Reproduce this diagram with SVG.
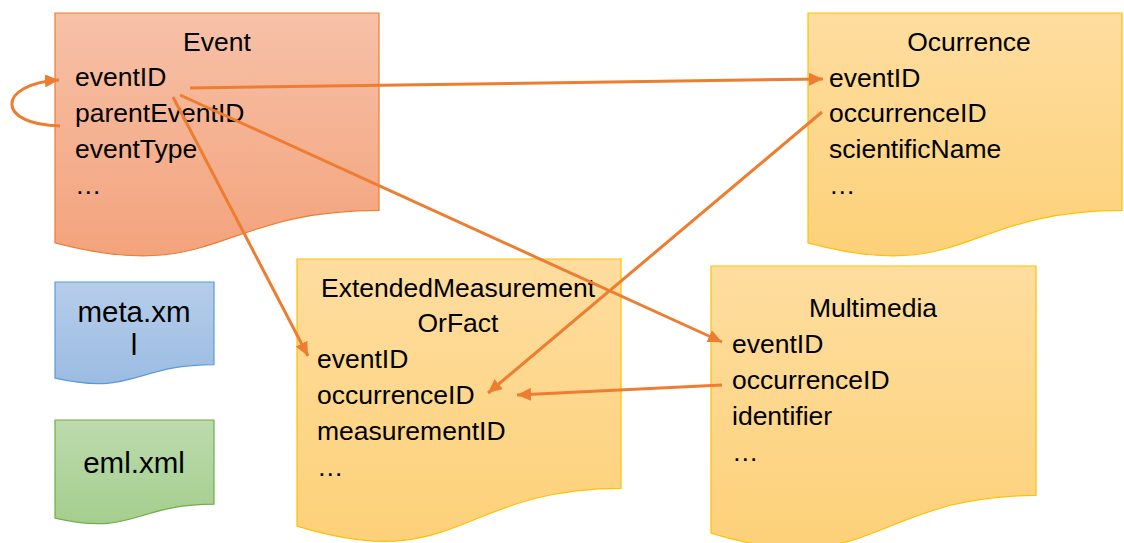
<svg xmlns="http://www.w3.org/2000/svg" width="1124" height="543" viewBox="0 0 1124 543">
<defs>
<linearGradient id="gOrange" x1="0" y1="0" x2="0" y2="1"><stop offset="0" stop-color="#f7c1a8"/><stop offset="1" stop-color="#f3a37c"/></linearGradient>
<linearGradient id="gYellow" x1="0" y1="0" x2="0" y2="1"><stop offset="0" stop-color="#fedd9f"/><stop offset="1" stop-color="#fdd179"/></linearGradient>
<linearGradient id="gBlue" x1="0" y1="0" x2="0" y2="1"><stop offset="0" stop-color="#b6cdea"/><stop offset="1" stop-color="#9bbce2"/></linearGradient>
<linearGradient id="gGreen" x1="0" y1="0" x2="0" y2="1"><stop offset="0" stop-color="#bddbad"/><stop offset="1" stop-color="#a4ce8e"/></linearGradient>
<marker id="arr" markerUnits="userSpaceOnUse" markerWidth="15" markerHeight="13" refX="14" refY="6.5" orient="auto">
<path d="M0,0 L14,6.5 L0,13 Z" fill="#ed7d31"/>
</marker>
</defs>
<style>
text{font-family:"Liberation Sans",Arial,sans-serif;font-size:26.5px;fill:#000}
.c{text-anchor:middle}
.big{font-size:29.5px}
.orange{fill:url(#gOrange);stroke:#ed7d31;stroke-width:1.2}
.yellow{fill:url(#gYellow);stroke:#ffc000;stroke-width:1.2}
.blue{fill:url(#gBlue);stroke:#5b9bd5;stroke-width:1.2}
.green{fill:url(#gGreen);stroke:#70ad47;stroke-width:1.2}
.conn path{fill:none;stroke:#ed7d31;stroke-width:3}
</style>
<g id="event">
<path class="orange" d="M55,13 H379 V210.3 C217,210.3 217,285.4 55,242.8 Z"/>
<text class="c" x="217" y="51">Event</text>
<text x="75" y="86">eventID</text>
<text x="75" y="122">parentEventID</text>
<text x="75" y="157.5">eventType</text>
<text x="75" y="193.5">…</text>
</g>
<g id="occurrence">
<path class="yellow" d="M808,13 H1122 V210.3 C965,210.3 965,285.4 808,242.8 Z"/>
<text class="c" x="969" y="50.5">Ocurrence</text>
<text x="829" y="87">eventID</text>
<text x="829" y="122">occurrenceID</text>
<text x="829" y="157.5">scientificName</text>
<text x="829" y="193.5">…</text>
</g>
<g id="emof">
<path class="yellow" d="M297,259 H621 V488.4 C459,488.4 459,575.7 297,526.1 Z"/>
<text class="c" x="458" y="297">ExtendedMeasurement</text>
<text class="c" x="458" y="332">OrFact</text>
<text x="317" y="368">eventID</text>
<text x="317" y="404">occurrenceID</text>
<text x="317" y="440">measurementID</text>
<text x="317" y="476">…</text>
</g>
<g id="multimedia">
<path class="yellow" d="M711,266 H1036 V495.4 C873.5,495.4 873.5,582.7 711,533.1 Z"/>
<text class="c" x="873" y="317">Multimedia</text>
<text x="732" y="353">eventID</text>
<text x="732" y="389">occurrenceID</text>
<text x="732" y="425">identifier</text>
<text x="732" y="461">…</text>
</g>
<g id="meta">
<path class="blue" d="M55,282 H214 V364.6 C134.5,364.6 134.5,396.1 55,378.2 Z"/>
<text class="c big" x="134" y="322">meta.xm</text>
<text class="c big" x="134" y="355">l</text>
</g>
<g id="eml">
<path class="green" d="M55,420 H214 V504.2 C134.5,504.2 134.5,536.3 55,518.1 Z"/>
<text class="c big" x="134" y="473">eml.xml</text>
</g>
<g id="connectors" class="conn">
<path d="M190,88 L823,79" marker-end="url(#arr)"/>
<path d="M180,95 L722,342" marker-end="url(#arr)"/>
<path d="M173,97 L308,356" marker-end="url(#arr)"/>
<path d="M822,112 L488,393" marker-end="url(#arr)"/>
<path d="M722,385 L517,395" marker-end="url(#arr)"/>
<path d="M60,126 C-4,125 -4,84 59,80" marker-end="url(#arr)"/>
</g>
</svg>
